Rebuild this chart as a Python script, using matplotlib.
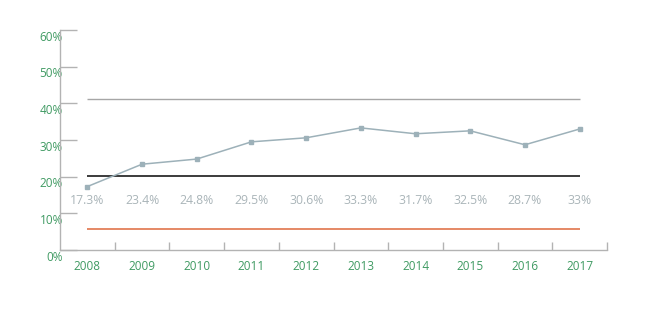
import matplotlib.pyplot as plt
import matplotlib.transforms as mtransforms

years = ["2008", "2009", "2010", "2011", "2012", "2013", "2014", "2015", "2016", "2017"]
values = [17.3, 23.4, 24.8, 29.5, 30.6, 33.3, 31.7, 32.5, 28.7, 33.0]
value_labels = ["17.3%", "23.4%", "24.8%", "29.5%", "30.6%", "33.3%", "31.7%", "32.5%", "28.7%", "33%"]
ref_upper = 41.2
ref_mid = 20.3
ref_lower = 5.8
y_ticks = [0, 10, 20, 30, 40, 50, 60]

GREEN = "#3f9a62"
LINE = "#9db1b9"
LABEL = "#aab5b9"
AXIS = "#b3b3b3"

plt.rcParams["font.family"] = ["Open Sans", "DejaVu Sans"]

fig = plt.figure(figsize=(6.5, 3.25), dpi=100)
ax = fig.add_axes([60 / 650, 75 / 325, 547 / 650, 220 / 325])

x = list(range(len(years)))
ax.hlines(ref_upper, x[0], x[-1], color="#a6a6a6", lw=1.0)
ax.hlines(ref_mid, x[0], x[-1], color="#1a1a1a", lw=1.2)
ax.hlines(ref_lower, x[0], x[-1], color="#e0744c", lw=1.2)
ax.plot(x, values, color=LINE, lw=1.1, marker="s", ms=2.6, mfc=LINE, mec=LINE)

for xi, lab in zip(x, value_labels):
    ax.text(xi, 13.4, lab, ha="center", va="center", color=LABEL, fontsize=8.8)

ax.set_xlim(-0.5, len(years) - 0.5)
ax.set_ylim(0, 60)

for side in ("top", "right"):
    ax.spines[side].set_visible(False)
for side in ("left", "bottom"):
    ax.spines[side].set_color(AXIS)
    ax.spines[side].set_linewidth(1.0)

ax.set_xticks(x)
ax.set_xticklabels(years)
ax.set_xticks([i + 0.5 for i in x], minor=True)
ax.tick_params(axis="x", which="major", length=0, pad=7.5, labelcolor=GREEN, labelsize=8.5)
ax.tick_params(axis="x", which="minor", direction="in", length=6, color=AXIS, width=1)

ax.set_yticks(y_ticks)
ax.set_yticklabels([f"{t}%" for t in y_ticks])
ax.tick_params(axis="y", direction="in", length=12, color=AXIS, width=1,
               labelcolor=GREEN, labelsize=8.5, pad=-2)
shift = mtransforms.ScaledTranslation(0, -4 / 72, fig.dpi_scale_trans)
for lbl in ax.get_yticklabels():
    lbl.set_transform(lbl.get_transform() + shift)

fig.savefig("out.png", dpi=100)
